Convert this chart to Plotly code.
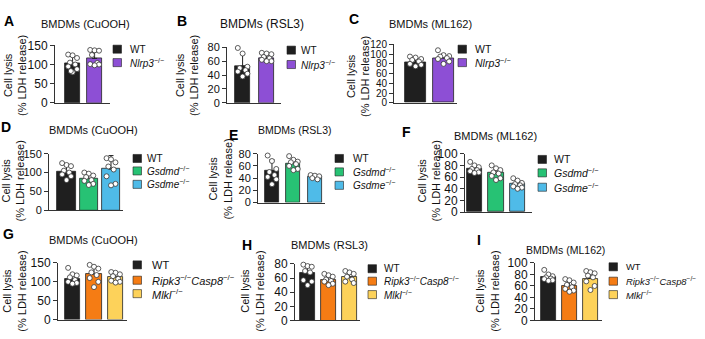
import plotly.graph_objects as go

W, H = 705, 339
FONT = "Arial, Liberation Sans, Helvetica, sans-serif"

# ---------------- data ----------------
colors = {
    "WT": "#1f1f1f",
    "Nlrp3": "#8d4fd5",
    "Gsdmd": "#27c274",
    "Gsdme": "#4fbbe8",
    "Ripk3Casp8": "#f57c14",
    "Mlkl": "#fdd25a",
}
legend_labels = {
    "WT": "WT",
    "Nlrp3": "<i>Nlrp3</i><sup>−/−</sup>",
    "Gsdmd": "<i>Gsdmd</i><sup>−/−</sup>",
    "Gsdme": "<i>Gsdme</i><sup>−/−</sup>",
    "Ripk3Casp8": "<i>Ripk3</i><sup>−/−</sup><i>Casp8</i><sup>−/−</sup>",
    "Mlkl": "<i>Mlkl</i><sup>−/−</sup>",
}

a_groups = ["WT", "Nlrp3"]
a_means = [102, 116]
a_sds = [20, 17]
a_points = [[126, 124, 117, 105, 100, 95, 88, 80, 83], [138, 137, 136, 125, 104, 101, 100, 98]]

b_groups = ["WT", "Nlrp3"]
b_means = [53, 64]
b_sds = [17, 5]
b_points = [[79, 71, 52, 50, 47, 45, 42, 38], [72, 71, 70, 66, 64, 62, 60, 60]]

c_groups = ["WT", "Nlrp3"]
c_means = [84, 92]
c_sds = [7, 8]
c_points = [[95, 93, 90, 88, 85, 80, 78, 75], [108, 98, 96, 95, 92, 90, 85, 80]]

d_groups = ["WT", "Gsdmd", "Gsdme"]
d_means = [103, 84, 109]
d_sds = [15, 12, 36]
d_points = [[125, 120, 117, 105, 100, 95, 90, 80], [100, 97, 92, 88, 80, 78, 70, 67],
            [138, 135, 127, 116, 108, 90, 70, 66]]

e_groups = ["WT", "Gsdmd", "Gsdme"]
e_means = [52, 64, 42]
e_sds = [18, 7, 3]
e_points = [[77, 68, 55, 50, 45, 42, 38, 30], [76, 70, 67, 66, 63, 60, 55, 53], [45, 44, 43, 40, 38]]

f_groups = ["WT", "Gsdmd", "Gsdme"]
f_means = [74, 67, 48]
f_sds = [6, 8, 6]
f_points = [[86, 80, 77, 74, 72, 70, 68, 67], [80, 75, 72, 68, 66, 62, 58, 55],
            [58, 54, 50, 48, 46, 44, 42, 40]]

g_groups = ["WT", "Ripk3Casp8", "Mlkl"]
g_means = [108, 120, 112]
g_sds = [13, 20, 10]
g_points = [[137, 120, 117, 112, 105, 100, 97, 95], [145, 140, 135, 125, 118, 110, 100, 86],
            [126, 124, 120, 115, 108, 103, 100, 98]]

h_groups = ["WT", "Ripk3Casp8", "Mlkl"]
h_means = [67, 57, 61]
h_sds = [11, 6, 7]
h_points = [[79, 77, 76, 70, 68, 57, 55, 50], [66, 64, 62, 58, 56, 55, 52, 50],
            [70, 68, 66, 62, 58, 55, 53]]

i_groups = ["WT", "Ripk3Casp8", "Mlkl"]
i_means = [75, 60, 73]
i_sds = [6, 8, 12]
i_points = [[88, 80, 77, 75, 73, 72, 70, 69], [72, 70, 66, 62, 58, 55, 52, 50],
            [86, 84, 82, 78, 75, 68, 60, 53]]

titles = ["BMDMs (CuOOH)", "BMDMs (RSL3)", "BMDMs (ML162)"] * 3
letters = ["A", "B", "C", "D", "E", "F", "G", "H", "I"]
y_max = [150, 80, 120, 150, 80, 100, 150, 80, 100]
y_step = [50, 20, 20, 50, 20, 20, 50, 20, 20]

# ---------------- layout geometry (pixels) ----------------
panels = [
    dict(g=a_groups, m=a_means, s=a_sds, p=a_points, xd=(55, 110), yd=(40, 100), xr=(-0.8, 1.7), bw=0.68,
         title=(85, 18, 11), letter=(9, 15), ytitle=(15, 72), tick=12,
         leg=(113, 128, [44, 58]), legfont=10),
    dict(g=b_groups, m=b_means, s=b_sds, p=b_points, xd=(227, 281), yd=(42, 100), xr=(-0.65, 1.6), bw=0.6,
         title=(262, 18, 12), letter=(182, 15), ytitle=(187, 72), tick=11,
         leg=(287, 299, [45, 60]), legfont=10),
    dict(g=c_groups, m=c_means, s=c_sds, p=c_points, xd=(394, 457), yd=(39, 100), xr=(-0.77, 1.48), bw=0.75,
         title=(430, 18, 11), letter=(354, 13), ytitle=(358, 72), tick=10,
         leg=(458, 473, [44, 58]), legfont=10.5),
    dict(g=d_groups, m=d_means, s=d_sds, p=d_points, xd=(49, 123), yd=(153, 212), xr=(-0.79, 2.54), bw=0.82,
         title=(93, 128, 11), letter=(6, 125), ytitle=(13, 182), tick=11,
         leg=(133, 145, [158, 171, 185]), legfont=10),
    dict(g=e_groups, m=e_means, s=e_sds, p=e_points, xd=(258, 325), yd=(153, 204), xr=(-0.65, 2.47), bw=0.65,
         title=(295, 128, 10.5), letter=(234, 133), ytitle=(220, 180), tick=11,
         leg=(335, 351, [158, 172, 186]), legfont=10),
    dict(g=f_groups, m=f_means, s=f_sds, p=f_points, xd=(465, 532), yd=(153, 214), xr=(-0.44, 2.67), bw=0.7,
         title=(495, 135, 11), letter=(406, 130), ytitle=(429, 182), tick=12,
         leg=(538, 552, [159, 173, 188]), legfont=10.5),
    dict(g=g_groups, m=g_means, s=g_sds, p=g_points, xd=(58, 127), yd=(267, 326), xr=(-0.67, 2.53), bw=0.7,
         title=(93, 243, 11), letter=(8, 237), ytitle=(14, 297), tick=12,
         leg=(133, 150, [269, 285, 299]), legfont=11),
    dict(g=h_groups, m=h_means, s=h_sds, p=h_points, xd=(295, 360), yd=(268, 327), xr=(-0.6, 2.5), bw=0.71,
         title=(329, 248, 11), letter=(247, 248), ytitle=(252, 297), tick=12,
         leg=(368, 382, [273, 286, 300]), legfont=10),
    dict(g=i_groups, m=i_means, s=i_sds, p=i_points, xd=(535, 602), yd=(267, 327), xr=(-0.64, 2.55), bw=0.71,
         title=(565, 253, 10.5), letter=(479, 243), ytitle=(487, 297), tick=12,
         leg=(609, 624, [271, 286, 300]), legfont=9.4),
]

jitter = [-0.2, 0.0, 0.2, -0.12, 0.12, -0.2, 0.2, 0.0, -0.08]


def fx(px):
    return px / W


def fy(py):
    return 1 - py / H


fig = go.Figure()
annotations = []
shapes = []

for k, pn in enumerate(panels):
    n = k + 1
    xa = "x" if n == 1 else f"x{n}"
    ya = "y" if n == 1 else f"y{n}"
    xs = list(range(len(pn["g"])))
    fig.add_trace(go.Bar(
        x=xs, y=pn["m"], width=pn["bw"], xaxis=xa, yaxis=ya,
        marker=dict(color=[colors[g] for g in pn["g"]], line=dict(color="#222", width=0.8)),
        error_y=dict(type="data", array=pn["s"], arrayminus=[0] * len(xs), symmetric=False,
                     color="#222", thickness=1, width=2.5),
        showlegend=False, hoverinfo="skip",
    ))
    px_list, py_list = [], []
    for gi, pts in enumerate(pn["p"]):
        for j, v in enumerate(pts):
            px_list.append(gi + jitter[j % len(jitter)])
            py_list.append(v)
    fig.add_trace(go.Scatter(
        x=px_list, y=py_list, mode="markers", xaxis=xa, yaxis=ya, cliponaxis=False,
        marker=dict(size=5, color="white", line=dict(color="#333", width=0.8)),
        showlegend=False, hoverinfo="skip",
    ))
    key = "" if n == 1 else str(n)
    fig.layout["xaxis" + key] = dict(
        domain=[fx(pn["xd"][0]), fx(pn["xd"][1])], anchor=ya, range=list(pn["xr"]),
        showline=True, linecolor="#333", linewidth=1, showticklabels=False, ticks="",
        showgrid=False, zeroline=False, fixedrange=True,
    )
    fig.layout["yaxis" + key] = dict(
        domain=[fy(pn["yd"][1]), fy(pn["yd"][0])], anchor=xa, range=[0, y_max[k]],
        dtick=y_step[k], tick0=0, showline=True, linecolor="#333", linewidth=1,
        ticks="outside", ticklen=4, tickcolor="#333", tickwidth=1,
        tickfont=dict(size=pn["tick"], color="#111", family=FONT),
        showgrid=False, zeroline=False, fixedrange=True,
    )
    tx, ty, tfs = pn["title"]
    annotations.append(dict(text=titles[k], x=fx(tx), y=fy(ty), xref="paper", yref="paper",
                            xanchor="center", yanchor="middle", showarrow=False,
                            font=dict(size=tfs, color="#111", family=FONT)))
    lx, ly = pn["letter"]
    annotations.append(dict(text=f"<b>{letters[k]}</b>", x=fx(lx), y=fy(ly), xref="paper", yref="paper",
                            xanchor="center", yanchor="middle", showarrow=False,
                            font=dict(size=14, color="#000", family=FONT)))
    yx, yy = pn["ytitle"]
    annotations.append(dict(text="Cell lysis<br>(% LDH release)", x=fx(yx), y=fy(yy), xref="paper",
                            yref="paper", xanchor="center", yanchor="middle", showarrow=False,
                            textangle=-90, font=dict(size=11, color="#111", family=FONT)))
    sq_x, txt_x, rows = pn["leg"]
    for gi, g in enumerate(pn["g"]):
        cy = rows[gi]
        shapes.append(dict(type="rect", xref="paper", yref="paper",
                           x0=fx(sq_x), x1=fx(sq_x + 8.5), y0=fy(cy + 4.2), y1=fy(cy - 4.2),
                           fillcolor=colors[g], line=dict(color="#222", width=0.6)))
        annotations.append(dict(text=legend_labels[g], x=fx(txt_x), y=fy(cy), xref="paper", yref="paper",
                                xanchor="left", yanchor="middle", showarrow=False,
                                font=dict(size=pn["legfont"], color="#111", family=FONT)))

fig.update_layout(
    width=W, height=H, margin=dict(l=0, r=0, t=0, b=0),
    paper_bgcolor="white", plot_bgcolor="white",
    annotations=annotations, shapes=shapes, bargap=0,
    font=dict(family=FONT),
)

fig.write_html("out.html", config={"displayModeBar": False},
               post_script="document.body.style.margin='0px';")
